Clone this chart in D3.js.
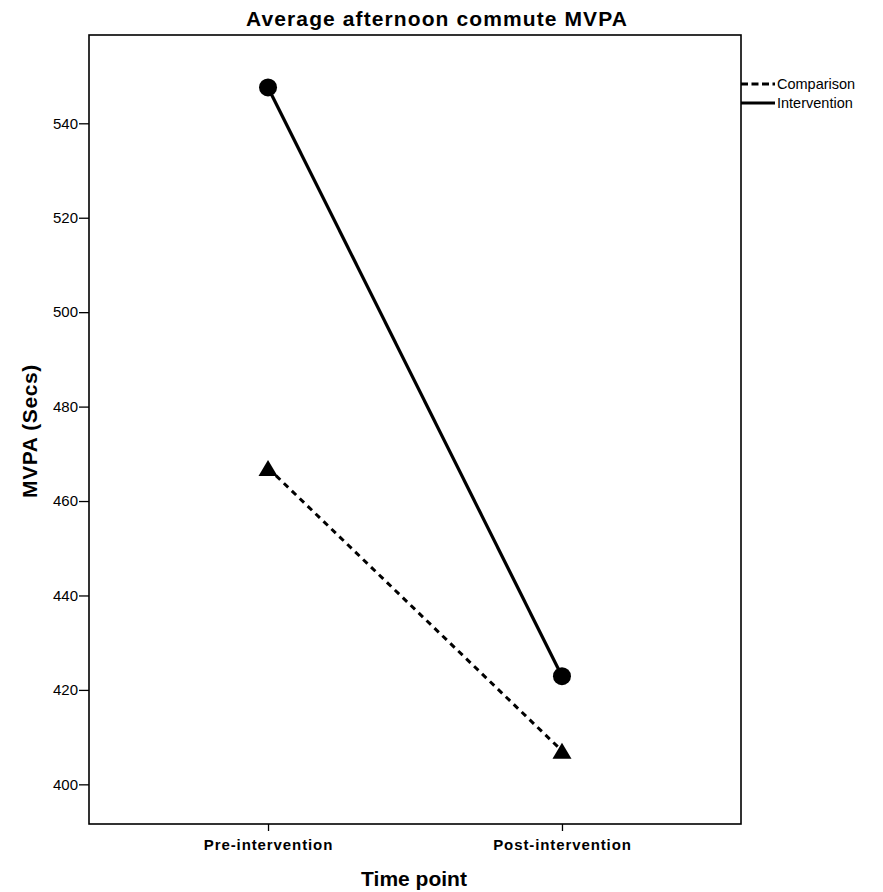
<!DOCTYPE html>
<html><head><meta charset="utf-8">
<script src="https://cdn.jsdelivr.net/npm/d3@7"></script>
<style>body{margin:0;background:#fff}svg{display:block}</style>
</head><body>
<svg id="c" width="883" height="892"></svg>
<script>
const categories = ["Pre-intervention", "Post-intervention"];
const comparison = [467.0, 407.1];
const intervention = [547.6, 422.9];
const yTicks = [400, 420, 440, 460, 480, 500, 520, 540];
const seriesNames = ["Comparison", "Intervention"];

const svg = d3.select("#c");
const L = 89, R = 741, T = 35, B = 824;
const font = "'Liberation Sans', Arial, sans-serif";

const x = d3.scalePoint().domain(categories).range([L, R]).padding(0.609);
const y = d3.scaleLinear().domain([391.6, 558.7]).range([B, T]);

svg.append("rect").attr("x", L).attr("y", T).attr("width", R - L).attr("height", B - T)
  .attr("fill", "none").attr("stroke", "#000").attr("stroke-width", 1.6);

const ya = svg.append("g").attr("transform", `translate(${L},0)`)
  .call(d3.axisLeft(y).tickValues(yTicks).tickSize(10).tickPadding(1).tickSizeOuter(0));
ya.select(".domain").remove();
ya.selectAll("text").attr("font-family", font).attr("font-size", 15).attr("fill", "#000");
ya.selectAll("line").attr("stroke", "#000").attr("stroke-width", 1.3);

const xa = svg.append("g").attr("transform", `translate(0,${B})`)
  .call(d3.axisBottom(x).tickSize(7).tickPadding(8).tickSizeOuter(0));
xa.select(".domain").remove();
xa.selectAll("text").attr("font-family", font).attr("font-size", 15).attr("font-weight", "bold")
  .attr("letter-spacing", "0.9px").attr("fill", "#000");
xa.selectAll("line").attr("stroke", "#000").attr("stroke-width", 1.3);

svg.append("text").attr("x", 437).attr("y", 26).attr("text-anchor", "middle")
  .attr("font-family", font).attr("font-weight", "bold").attr("font-size", 21)
  .attr("letter-spacing", "1.1px").text("Average afternoon commute MVPA");
svg.append("text").attr("x", 414).attr("y", 886).attr("text-anchor", "middle")
  .attr("font-family", font).attr("font-weight", "bold").attr("font-size", 21).text("Time point");
svg.append("text").attr("transform", "translate(37,431) rotate(-90)").attr("text-anchor", "middle")
  .attr("font-family", font).attr("font-weight", "bold").attr("font-size", 21)
  .attr("letter-spacing", "0.6px").text("MVPA (Secs)");

const line = d3.line().x((d, i) => x(categories[i])).y(d => y(d));
svg.append("path").datum(comparison).attr("d", line).attr("fill", "none").attr("stroke", "#000")
  .attr("stroke-width", 3).attr("stroke-dasharray", "6,5");
svg.append("path").datum(intervention).attr("d", line).attr("fill", "none").attr("stroke", "#000")
  .attr("stroke-width", 3.2);

svg.selectAll(".circ").data(intervention).enter().append("circle")
  .attr("cx", (d, i) => x(categories[i])).attr("cy", d => y(d)).attr("r", 9).attr("fill", "#000");
svg.selectAll(".tri").data(comparison).enter().append("path")
  .attr("d", "M0,-8L9.5,8L-9.5,8Z")
  .attr("transform", (d, i) => `translate(${x(categories[i])},${y(d)})`).attr("fill", "#000");

const lg = svg.append("g");
seriesNames.forEach((n, i) => {
  const yy = 84 + i * 19;
  lg.append("line").attr("x1", 741).attr("x2", 775).attr("y1", yy).attr("y2", yy)
    .attr("stroke", "#000").attr("stroke-width", 3)
    .attr("stroke-dasharray", i === 0 ? "7,3.5" : null);
  lg.append("text").attr("x", 777).attr("y", yy + 5).attr("font-family", font).attr("font-size", 14.5)
    .text(n);
});
</script>
</body></html>
